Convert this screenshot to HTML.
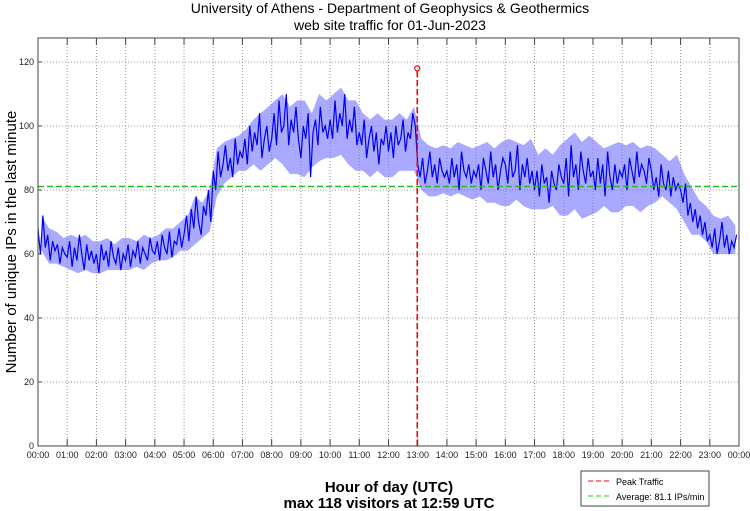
<!DOCTYPE html>
<html><head><meta charset="utf-8"><style>
body{margin:0;background:#fff;}
svg{display:block;font-family:"Liberation Sans",sans-serif;}
</style></head><body>
<svg id="chart" width="750" height="511" viewBox="0 0 750 511">
<text x="390" y="13" font-size="14" text-anchor="middle">University of Athens - Department of Geophysics &amp; Geothermics</text>
<text x="390" y="30" font-size="14" text-anchor="middle">web site traffic for 01-Jun-2023</text>
<text transform="translate(16,242) rotate(-90)" font-size="15" text-anchor="middle">Number of unique IPs in the last minute</text>
<text x="389" y="492" font-size="15" font-weight="bold" text-anchor="middle">Hour of day (UTC)</text>
<text x="389" y="508" font-size="15" font-weight="bold" text-anchor="middle">max 118 visitors at 12:59 UTC</text>
<g id="grid"></g>
<g id="series"></g>
<rect x="38" y="38" width="701" height="408" fill="none" stroke="#444" stroke-width="1"/>
<g>
<rect x="581" y="471" width="128" height="35" fill="#fff" stroke="#444"/>
<line x1="588" y1="481" x2="612" y2="481" stroke="#f00" stroke-dasharray="5,3"/>
<text x="616" y="485" font-size="9">Peak Traffic</text>
<line x1="588" y1="496" x2="612" y2="496" stroke="#2b2" stroke-dasharray="5,3"/>
<text x="616" y="500" font-size="9">Average: 81.1 IPs/min</text>
</g>
</svg>
<script>
const yTicks=[0,20,40,60,80,100,120];
const xTickLabels=["00:00","01:00","02:00","03:00","04:00","05:00","06:00","07:00","08:00","09:00","10:00","11:00","12:00","13:00","14:00","15:00","16:00","17:00","18:00","19:00","20:00","21:00","22:00","23:00","00:00"];
const trafficPer5Min=[
68,60,72,62,66,58,64,61,63,57,62,60,
59,64,56,62,58,66,60,55,63,58,61,57,
60,54,63,58,61,56,64,59,57,62,55,60,
58,63,56,61,59,64,57,62,60,58,65,61,
60,64,58,66,62,60,67,59,64,63,68,62,
66,72,64,74,68,78,70,66,75,72,80,70,
86,80,92,84,88,94,86,90,84,96,88,92,
90,96,88,100,92,98,94,104,90,96,100,92,
96,104,94,108,98,100,110,94,102,98,106,96,
90,100,96,104,84,98,102,94,106,98,100,96,
102,96,108,98,104,100,110,96,102,98,106,94,
98,94,102,90,96,100,92,98,88,96,94,100,
92,98,90,100,94,96,102,92,98,96,104,100,
88,84,90,82,86,92,84,88,82,90,86,84,
86,82,90,84,88,80,92,86,84,88,82,86,
84,88,80,90,86,82,92,84,88,80,86,90,
88,82,92,84,86,94,80,88,84,90,82,86,
80,86,78,88,82,84,76,86,82,80,88,84,
82,90,78,94,84,88,80,92,86,82,90,84,
86,80,90,82,88,78,92,84,80,88,82,86,
84,88,80,90,86,82,92,84,88,86,82,90,
86,80,84,78,88,82,80,86,78,84,80,82,
80,76,82,72,76,70,74,68,72,66,70,64,
66,62,68,60,64,70,62,66,60,64,62,66];
const highPer15Min=[72,68,67,65,66,65,66,64,64,65,63,65,65,64,66,65,66,68,68,70,72,78,76,80,93,95,96,97,99,102,104,106,108,110,106,108,108,104,110,108,110,112,108,108,104,102,104,102,102,104,102,106,96,94,93,94,93,95,94,93,94,95,93,95,96,95,94,96,91,93,91,94,96,98,95,97,95,93,94,95,94,95,93,94,93,91,89,91,85,81,77,75,72,71,72,69];
const lowPer15Min=[61,57,57,56,55,54,55,54,54,55,55,55,55,56,55,57,58,58,59,61,61,63,65,67,78,82,84,86,86,88,86,88,90,88,85,85,84,87,89,90,90,91,88,86,86,84,86,84,84,86,86,86,80,78,78,79,78,79,78,77,78,76,76,75,75,77,75,74,74,74,75,72,72,74,71,72,73,75,73,73,75,75,73,75,76,78,76,74,70,66,66,64,60,60,60,60];
const peakMinute=[779];
const peakValue=[118];
const averageValue=[81.1];

const X0=38,X1=739,Y0=446,YMAX=127.5,YPX=408;
const xs=m=>X0+m/1440*(X1-X0);
const ys=v=>Y0-v/YMAX*YPX;
const NS="http://www.w3.org/2000/svg";
function mk(tag,attrs,parent){const e=document.createElementNS(NS,tag);for(const k in attrs)e.setAttribute(k,attrs[k]);parent.appendChild(e);return e;}
const grid=document.getElementById('grid'),ser=document.getElementById('series');
yTicks.forEach(v=>{
 const y=ys(v);
 if(v>0){const g=mk('line',{x1:X0,x2:X1,y1:y,y2:y,stroke:'#999','stroke-dasharray':'1,2'},grid);
 
 }
 const t=mk('line',{x1:X0,x2:X0+4,y1:y,y2:y,stroke:'#444'},grid);
 
 
 const l=mk('text',{x:X0-4,y:y+3,'font-size':9,'text-anchor':'end',fill:'#222'},grid);
 l.textContent=v;
 
 
});
xTickLabels.forEach((s,i)=>{
 const x=xs(i*60);
 if(i>0&&i<24){const g=mk('line',{x1:x,x2:x,y1:38,y2:Y0,stroke:'#999','stroke-dasharray':'1,2'},grid);
 
 }
 const t=mk('path',{d:`M${x},${Y0}v-7M${x},38v7`,stroke:'#444'},grid);
 
 
 const l=mk('text',{x:x,y:Y0+12,'font-size':9,'text-anchor':'middle',fill:'#222'},grid);
 l.textContent=s;
 
 
});
const up=highPer15Min.map((v,i)=>xs(i*15+7.5).toFixed(1)+','+ys(v).toFixed(1));
const dn=lowPer15Min.map((v,i)=>xs(i*15+7.5).toFixed(1)+','+ys(v).toFixed(1)).reverse();
const band=mk('polygon',{points:up.concat(dn).join(' '),fill:'#7070ff',opacity:0.6},ser);


const pts=trafficPer5Min.map((v,i)=>xs(i*5).toFixed(1)+','+ys(v).toFixed(1)).join(' ');
const line=mk('polyline',{points:pts,fill:'none',stroke:'#0000ee','stroke-width':1.2},ser);


const avg=mk('line',{x1:X0,x2:X1,y1:ys(averageValue[0]),y2:ys(averageValue[0]),stroke:'#2b2','stroke-width':1.5,'stroke-dasharray':'6,3'},ser);


const px=xs(peakMinute[0]);
const pk=mk('line',{x1:px,x2:px,y1:Y0,y2:ys(peakValue[0]),stroke:'#f00','stroke-width':1.5,'stroke-dasharray':'6,3'},ser);


const pc=mk('circle',{cx:px,cy:ys(peakValue[0]),r:2.5,fill:'none',stroke:'#f00','stroke-width':1.2},ser);


</script>
</body></html>
